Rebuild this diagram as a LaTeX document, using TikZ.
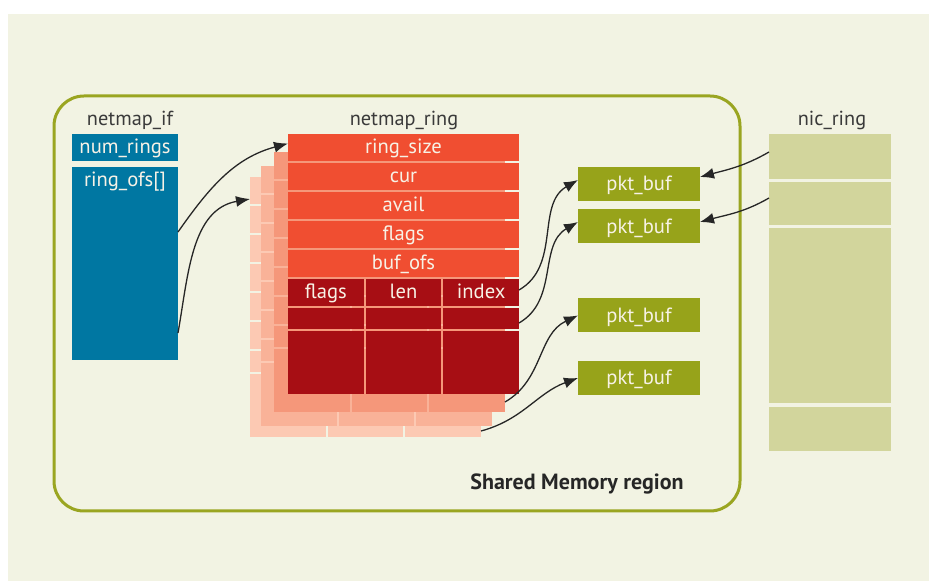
\documentclass[tikz,border=0pt]{standalone}
\usepackage{fontspec}
\setmainfont{PT Sans}
\usetikzlibrary{arrows.meta,positioning}

\definecolor{paper}{HTML}{F2F3E3}
\definecolor{olive}{HTML}{9AA521}
\definecolor{pktgreen}{HTML}{97A31A}
\definecolor{nicgreen}{HTML}{D2D59C}
\definecolor{ifblue}{HTML}{0077A2}
\definecolor{ringred}{HTML}{F04E31}
\definecolor{slotred}{HTML}{A70E14}
\definecolor{layerA}{HTML}{F5977A}
\definecolor{layerB}{HTML}{F9B298}
\definecolor{layerC}{HTML}{FCC9B3}
\definecolor{celltext}{HTML}{F7F2E6}
\definecolor{labeltext}{HTML}{3A3A3A}
\definecolor{arrowgray}{HTML}{262626}

% one netmap_ring copy without text: name, x shift, y shift, colour
\newcommand{\ringlayer}[4]{%
  \begin{scope}[shift={(#2,#3)}]
    \foreach \r/\y in {1/433.5,2/404.5,3/375.5,4/346.5,5/317.5}
      \node[cell,fill=#4,minimum width=231,minimum height=27] (#1-r\r) at (403.5,\y) {}; %Draw header row
    \foreach \c/\x in {1/325.83,2/403.5,3/481.17}{
      \node[cell,fill=#4,minimum width=75.67,minimum height=27] (#1-a\c) at (\x,288.5) {}; %Draw slot 1
      \node[cell,fill=#4,minimum width=75.67,minimum height=21] (#1-b\c) at (\x,262.5) {}; %Draw slot 2
      \node[cell,fill=#4,minimum width=75.67,minimum height=63] (#1-c\c) at (\x,218.5) {}; %Draw other slots
    }
  \end{scope}}

\begin{document}
\begin{tikzpicture}[x=1pt,y=1pt,
  cell/.style={rectangle,inner sep=0pt,outer sep=0pt,text=celltext,
    text height=14pt,text depth=2pt,font=\fontsize{20.6}{24}\selectfont},
  field/.style={cell,fill=ringred,minimum width=231,minimum height=27},
  slot/.style={cell,fill=slotred,minimum width=75.67,minimum height=27},
  ifbox/.style={cell,fill=ifblue,minimum width=106},
  pktbox/.style={cell,fill=pktgreen,minimum width=122,minimum height=34,text height=16pt},
  niccell/.style={cell,fill=nicgreen,minimum width=122},
  ringtitle/.style={anchor=base,text=labeltext,font=\fontsize{20.3}{24}\selectfont},
  shmframe/.style={draw=olive,line width=3pt,rounded corners=30pt},
  ptr/.style={-{Latex[length=14pt,width=11pt]},line width=1.3pt,draw=arrowgray}]

  \useasboundingbox (0,0) rectangle (929,581);
  \fill[white] (0,0) rectangle (929,581); %Draw page
  \fill[paper] (8,0) rectangle (929,567); %Draw panel

  \draw[shmframe] (54,70) rectangle (740,485); %Draw shared memory frame
  \node[anchor=base,text=black!85,font=\fontsize{22}{26}\selectfont\bfseries] (shm) at (577,91) {Shared Memory region};

  % netmap_if
  \node[ringtitle] (iftitle) at (130,455) {netmap\_if};
  \node[ifbox,minimum height=27] (numrings) at (125,433.5) {num\_rings};
  \node[ifbox,minimum height=193] (ofs) at (125,317.5) {};
  \node[cell,anchor=base] (ofstext) at (125,394) {ring\_ofs[]};

  % netmap_ring, back copies first
  \node[ringtitle] (ringtitle) at (404,455) {netmap\_ring};
  \ringlayer{L3}{-38}{-43}{layerC}
  \ringlayer{L2}{-27}{-32}{layerB}
  \ringlayer{L1}{-14}{-18.5}{layerA}

  \node[field] (ringsize) at (403.5,433.5) {ring\_size};
  \node[field] (cur) at (403.5,404.5) {cur};
  \node[field] (avail) at (403.5,375.5) {avail};
  \node[field] (flags) at (403.5,346.5) {flags};
  \node[field] (bufofs) at (403.5,317.5) {buf\_ofs};
  \node[slot] (sflags) at (325.83,288.5) {flags};
  \node[slot] (slen) at (403.5,288.5) {len};
  \node[slot] (sindex) at (481.17,288.5) {index};
  \foreach \c/\x in {a/325.83,b/403.5,c/481.17}{
    \node[slot,minimum height=21] (next\c) at (\x,262.5) {}; %Draw second slot
    \node[slot,minimum height=63] (rest\c) at (\x,218.5) {}; %Draw remaining slots
  }

  % packet buffers
  \node[pktbox] (pkt1) at (639,397) {pkt\_buf};
  \node[pktbox] (pkt2) at (639,354.5) {pkt\_buf};
  \node[pktbox] (pkt3) at (639,265.5) {pkt\_buf};
  \node[pktbox] (pkt4) at (639,203) {pkt\_buf};

  % nic_ring
  \node[ringtitle] (nictitle) at (832,455) {nic\_ring};
  \node[niccell,minimum height=45] (nic1) at (830,424.5) {};
  \node[niccell,minimum height=43] (nic2) at (830,377.5) {};
  \node[niccell,minimum height=175] (nic3) at (830,265.5) {};
  \node[niccell,minimum height=44] (nic4) at (830,152) {};

  % pointers
  \draw[ptr] ([yshift=31.5]ofs.east) to[out=55,in=195] ([yshift=4]ringsize.west); %ring 0
  \draw[ptr] ([yshift=-69.5]ofs.east) to[out=80,in=190] ([yshift=-8.5]L3-r1.west); %ring 1
  \draw[ptr] ([yshift=2.5]sindex.east) to[out=30,in=210] ([yshift=4]pkt1.west); %slot 0
  \draw[ptr] ([yshift=-4.5]nextc.east) to[out=30,in=210] ([yshift=4.5]pkt2.west); %slot 1
  \draw[ptr] ([yshift=-21]L1-c3.east) to[out=30,in=205] (pkt3.west); %copy 1
  \draw[ptr] ([yshift=-25.5]L3-c3.east) to[out=15,in=200] (pkt4.west); %copy 3
  \draw[ptr] ([yshift=4.5]nic1.west) to[out=210,in=15] ([yshift=7]pkt1.east); %nic slot 0
  \draw[ptr] ([yshift=5.5]nic2.west) to[out=210,in=15] ([yshift=4.5]pkt2.east); %nic slot 1
\end{tikzpicture}
\end{document}
